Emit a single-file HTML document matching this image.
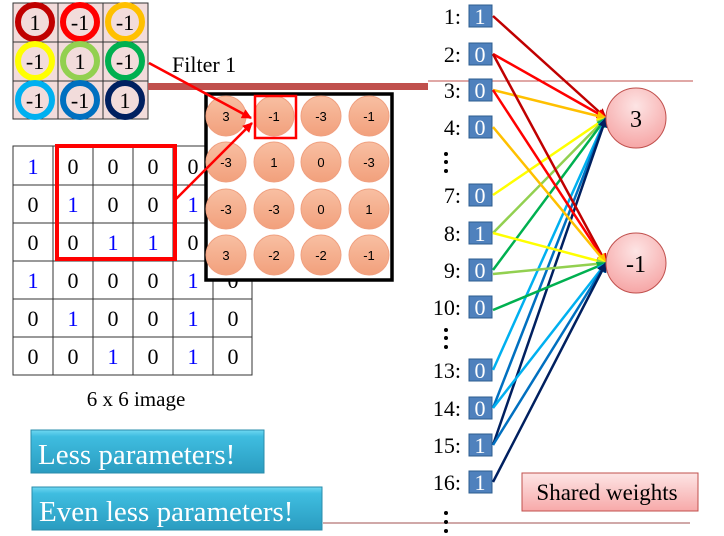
<!DOCTYPE html>
<html><head><style>body{margin:0;background:#fff}svg{display:block}</style></head><body>
<svg width="724" height="536" xmlns="http://www.w3.org/2000/svg" font-family="Liberation Serif, serif">
<defs>
<marker id="a" viewBox="0 0 10 10" refX="9" refY="5" markerWidth="4" markerHeight="4" orient="auto"><path d="M0,0L10,5L0,10z" fill="context-stroke"/></marker>
<linearGradient id="bt" x1="0" y1="0" x2="0" y2="1"><stop offset="0" stop-color="#6fd8f2"/><stop offset="0.15" stop-color="#3fbde0"/><stop offset="1" stop-color="#2a9cc0"/></linearGradient>
<linearGradient id="pk" x1="0" y1="0" x2="0" y2="1"><stop offset="0" stop-color="#fde5e5"/><stop offset="1" stop-color="#f7a9a9"/></linearGradient>
<radialGradient id="nd" cx="0.5" cy="0.3" r="0.7"><stop offset="0" stop-color="#fde4e4"/><stop offset="1" stop-color="#f6a6a6"/></radialGradient>
<linearGradient id="oc" x1="0" y1="0" x2="0" y2="1"><stop offset="0" stop-color="#f8bfa2"/><stop offset="1" stop-color="#f2a07c"/></linearGradient>
</defs>
<rect x="13" y="3" width="135" height="116" fill="#f2dcdb" stroke="#333"/>
<g stroke="#333"><line x1="58" y1="3" x2="58" y2="119"/><line x1="103" y1="3" x2="103" y2="119"/><line x1="13" y1="42" x2="148" y2="42"/><line x1="13" y1="81" x2="148" y2="81"/></g>
<g fill="none" stroke-width="6">
<circle cx="35" cy="22" r="17" stroke="#c00000"/><circle cx="80" cy="22" r="17" stroke="#ff0000"/><circle cx="125" cy="22" r="17" stroke="#ffc000"/>
<circle cx="35" cy="61" r="17" stroke="#ffff00"/><circle cx="80" cy="61" r="17" stroke="#92d050"/><circle cx="125" cy="61" r="17" stroke="#00b050"/>
<circle cx="35" cy="100" r="17" stroke="#00b0f0"/><circle cx="80" cy="100" r="17" stroke="#0070c0"/><circle cx="125" cy="100" r="17" stroke="#002060"/>
</g>
<g font-size="22" text-anchor="middle">
<text x="35" y="30">1</text><text x="80" y="30">-1</text><text x="125" y="30">-1</text>
<text x="35" y="69">-1</text><text x="80" y="69">1</text><text x="125" y="69">-1</text>
<text x="35" y="108">-1</text><text x="80" y="108">-1</text><text x="125" y="108">1</text>
</g>
<text x="172" y="72" font-size="22">Filter 1</text>
<rect x="148" y="83" width="280" height="7" fill="#c0504d"/>
<line x1="428" y1="81" x2="693" y2="81" stroke="#c0504d" stroke-width="1"/>
<line x1="323" y1="523" x2="690" y2="523" stroke="#a05050" stroke-width="1"/>
<g stroke="#333" fill="none">
<rect x="13" y="146" width="239" height="229"/>
<line x1="53" y1="146" x2="53" y2="375"/><line x1="93" y1="146" x2="93" y2="375"/><line x1="133" y1="146" x2="133" y2="375"/><line x1="173" y1="146" x2="173" y2="375"/><line x1="213" y1="146" x2="213" y2="375"/>
<line x1="13" y1="185" x2="252" y2="185"/><line x1="13" y1="223" x2="252" y2="223"/><line x1="13" y1="261" x2="252" y2="261"/><line x1="13" y1="299" x2="252" y2="299"/><line x1="13" y1="337" x2="252" y2="337"/>
</g>
<g font-size="22" text-anchor="middle">
<text x="33" y="174" fill="#00f">1</text><text x="73" y="174">0</text><text x="113" y="174">0</text><text x="153" y="174">0</text><text x="193" y="174">0</text><text x="233" y="174">1</text>
<text x="33" y="212">0</text><text x="73" y="212" fill="#00f">1</text><text x="113" y="212">0</text><text x="153" y="212">0</text><text x="193" y="212" fill="#00f">1</text><text x="233" y="212">0</text>
<text x="33" y="250">0</text><text x="73" y="250">0</text><text x="113" y="250" fill="#00f">1</text><text x="153" y="250" fill="#00f">1</text><text x="193" y="250">0</text><text x="233" y="250">0</text>
<text x="33" y="288" fill="#00f">1</text><text x="73" y="288">0</text><text x="113" y="288">0</text><text x="153" y="288">0</text><text x="193" y="288" fill="#00f">1</text><text x="233" y="288">0</text>
<text x="33" y="326">0</text><text x="73" y="326" fill="#00f">1</text><text x="113" y="326">0</text><text x="153" y="326">0</text><text x="193" y="326" fill="#00f">1</text><text x="233" y="326">0</text>
<text x="33" y="364">0</text><text x="73" y="364">0</text><text x="113" y="364" fill="#00f">1</text><text x="153" y="364">0</text><text x="193" y="364" fill="#00f">1</text><text x="233" y="364">0</text>
</g>
<rect x="57" y="146" width="118" height="113" fill="none" stroke="#f00" stroke-width="4"/>
<text x="136" y="406" font-size="21" text-anchor="middle">6 x 6 image</text>
<rect x="206" y="94" width="186" height="186" fill="#fff" stroke="#000" stroke-width="3.5"/>
<g fill="url(#oc)" stroke="#f0a080">
<circle cx="226" cy="116" r="20"/><circle cx="274" cy="116" r="20"/><circle cx="321" cy="116" r="20"/><circle cx="369" cy="116" r="20"/>
<circle cx="226" cy="162" r="20"/><circle cx="274" cy="162" r="20"/><circle cx="321" cy="162" r="20"/><circle cx="369" cy="162" r="20"/>
<circle cx="226" cy="209" r="20"/><circle cx="274" cy="209" r="20"/><circle cx="321" cy="209" r="20"/><circle cx="369" cy="209" r="20"/>
<circle cx="226" cy="255" r="20"/><circle cx="274" cy="255" r="20"/><circle cx="321" cy="255" r="20"/><circle cx="369" cy="255" r="20"/>
</g>
<g font-size="13" font-family="Liberation Sans, sans-serif" text-anchor="middle">
<text x="226" y="121">3</text><text x="274" y="121">-1</text><text x="321" y="121">-3</text><text x="369" y="121">-1</text>
<text x="226" y="167">-3</text><text x="274" y="167">1</text><text x="321" y="167">0</text><text x="369" y="167">-3</text>
<text x="226" y="214">-3</text><text x="274" y="214">-3</text><text x="321" y="214">0</text><text x="369" y="214">1</text>
<text x="226" y="260">3</text><text x="274" y="260">-2</text><text x="321" y="260">-2</text><text x="369" y="260">-1</text>
</g>
<rect x="255" y="96" width="41" height="42" fill="none" stroke="#f00" stroke-width="2.5"/>
<g stroke="#f00" stroke-width="2.5" marker-end="url(#a)">
<line x1="149" y1="63" x2="251" y2="118"/><line x1="176" y1="199" x2="252" y2="123"/>
</g>
<rect x="31" y="430" width="233" height="43" fill="url(#bt)" stroke="#2a8cab"/>
<text x="38" y="464" font-size="29" fill="#fff">Less parameters!</text>
<rect x="32" y="487" width="290" height="43" fill="url(#bt)" stroke="#2a8cab"/>
<text x="39" y="521" font-size="29" fill="#fff">Even less parameters!</text>
<g font-size="22" text-anchor="end">
<text x="461" y="24">1:</text><text x="461" y="62">2:</text><text x="461" y="98">3:</text><text x="461" y="135">4:</text>
<text x="461" y="203">7:</text><text x="461" y="241">8:</text><text x="461" y="278">9:</text><text x="461" y="315">10:</text>
<text x="461" y="378">13:</text><text x="461" y="416">14:</text><text x="461" y="453">15:</text><text x="461" y="490">16:</text>
</g>
<g fill="#000"><circle cx="446" cy="154" r="2"/><circle cx="446" cy="162" r="2"/><circle cx="446" cy="171" r="2"/>
<circle cx="446" cy="330" r="2"/><circle cx="446" cy="338" r="2"/><circle cx="446" cy="347" r="2"/>
<circle cx="446" cy="513" r="2"/><circle cx="446" cy="522" r="2"/><circle cx="446" cy="531" r="2"/></g>
<g fill="#4f81bd" stroke="#2c5d8f">
<rect x="469" y="5" width="23" height="22"/><rect x="469" y="43" width="23" height="22"/><rect x="469" y="79" width="23" height="22"/><rect x="469" y="116" width="23" height="22"/>
<rect x="469" y="184" width="23" height="22"/><rect x="469" y="222" width="23" height="22"/><rect x="469" y="259" width="23" height="22"/><rect x="469" y="296" width="23" height="22"/>
<rect x="469" y="359" width="23" height="22"/><rect x="469" y="397" width="23" height="22"/><rect x="469" y="434" width="23" height="22"/><rect x="469" y="471" width="23" height="22"/>
</g>
<g font-size="22" fill="#fff" text-anchor="middle">
<text x="480" y="24">1</text><text x="480" y="62">0</text><text x="480" y="98">0</text><text x="480" y="135">0</text>
<text x="480" y="203">0</text><text x="480" y="241">1</text><text x="480" y="278">0</text><text x="480" y="315">0</text>
<text x="480" y="378">0</text><text x="480" y="416">0</text><text x="480" y="453">1</text><text x="480" y="490">1</text>
</g>
<g stroke-width="2.5" marker-end="url(#a)">
<line x1="493" y1="16" x2="606" y2="118" stroke="#c00000"/>
<line x1="493" y1="54" x2="606" y2="118" stroke="#ff0000"/>
<line x1="493" y1="90" x2="606" y2="118" stroke="#ffc000"/>
<line x1="493" y1="195" x2="606" y2="118" stroke="#ffff00"/>
<line x1="493" y1="233" x2="606" y2="118" stroke="#92d050"/>
<line x1="493" y1="270" x2="606" y2="118" stroke="#00b050"/>
<line x1="493" y1="370" x2="606" y2="118" stroke="#00b0f0"/>
<line x1="493" y1="408" x2="606" y2="118" stroke="#0070c0"/>
<line x1="493" y1="445" x2="606" y2="118" stroke="#002060"/>
<line x1="493" y1="54" x2="606" y2="263" stroke="#c00000"/>
<line x1="493" y1="90" x2="606" y2="263" stroke="#ff0000"/>
<line x1="493" y1="127" x2="606" y2="263" stroke="#ffc000"/>
<line x1="493" y1="233" x2="606" y2="263" stroke="#ffff00"/>
<line x1="493" y1="274" x2="606" y2="263" stroke="#92d050"/>
<line x1="493" y1="310" x2="606" y2="263" stroke="#00b050"/>
<line x1="493" y1="408" x2="606" y2="263" stroke="#00b0f0"/>
<line x1="493" y1="445" x2="606" y2="263" stroke="#0070c0"/>
<line x1="493" y1="482" x2="606" y2="263" stroke="#002060"/>
</g>
<circle cx="636" cy="118" r="30" fill="url(#nd)" stroke="#c0504d"/>
<circle cx="636" cy="263" r="30" fill="url(#nd)" stroke="#c0504d"/>
<text x="636" y="127" font-size="24" text-anchor="middle">3</text>
<text x="636" y="272" font-size="24" text-anchor="middle">-1</text>
<rect x="522" y="473" width="176" height="38" fill="url(#pk)" stroke="#c0504d"/>
<text x="607" y="500" font-size="23" text-anchor="middle">Shared weights</text>
</svg>
</body></html>
